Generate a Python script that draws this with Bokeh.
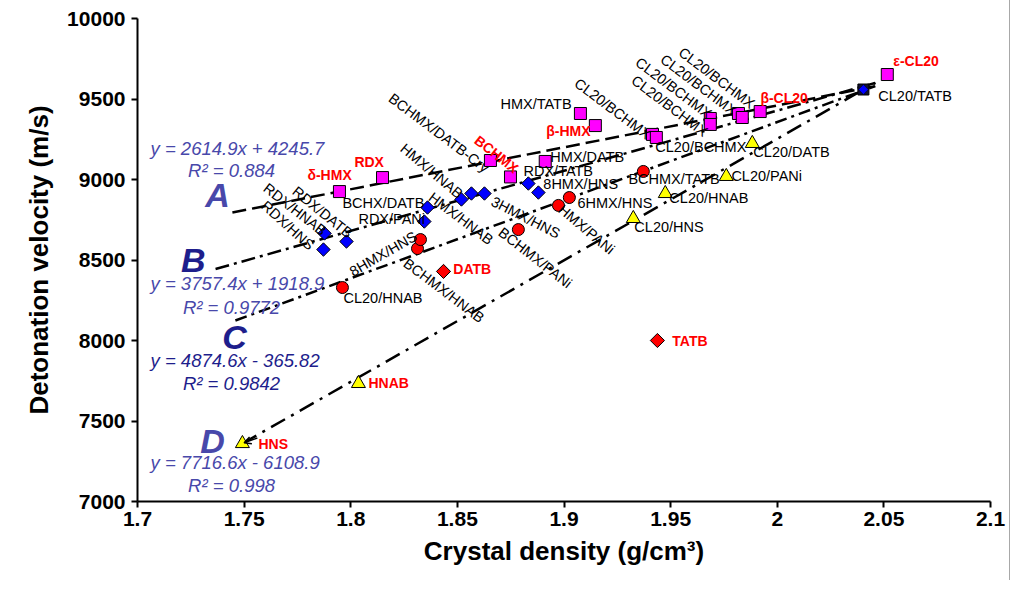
from bokeh.plotting import figure
from bokeh.models import FixedTicker, Range1d, Arrow, OpenHead
from bokeh.core.properties import value
from bokeh.embed import file_html
from bokeh.resources import INLINE

# ---------------- data ----------------
# line A series (magenta squares)
sq_x = [1.7947, 1.8149, 1.8655, 1.8749, 1.8912, 1.9077, 1.9147, 1.9415, 1.9433,
        1.9686, 1.9686, 1.9818, 1.9836, 1.9920, 2.0516]
sq_y = [8925, 9012, 9118, 9016, 9112, 9410, 9335, 9280, 9261,
        9379, 9342, 9410, 9385, 9422, 9652]
# line B series (blue diamonds)
dm_x = [1.7872, 1.7877, 1.7980, 1.8345, 1.8360, 1.8519, 1.8566, 1.8627, 1.8833, 1.8880]
dm_y = [8565, 8665, 8615, 8739, 8826, 8876, 8913, 8913, 8975, 8919]
# line C series (red circles)
ci_x = [1.7961, 1.8313, 1.8327, 1.8786, 1.8974, 1.9025, 1.9372]
ci_y = [8329, 8571, 8627, 8689, 8839, 8888, 9050]
# line D series (yellow triangles)
tr_x = [1.7492, 1.8036, 1.9325, 1.9475, 1.9761, 1.9883]
tr_y = [7360, 7733, 8758, 8913, 9019, 9224]
# pure explosives DATB / TATB (red diamonds)
rd_x = [1.8435, 1.9438]
rd_y = [8429, 8000]
# common end point CL20/TATB
end_x = [2.0404]
end_y = [9559]

# trend lines (start / end)
trend_names = ["A", "B", "C", "D"]
trend_x0 = [1.7445, 1.7366, 1.7459, 1.7492]
trend_y0 = [8795, 8444, 8124, 7360]
trend_x1 = [2.046, 2.046, 2.046, 2.046]
trend_y1 = [9580, 9600, 9580, 9600]

equations = ["y = 2614.9x + 4245.7", "y = 3757.4x + 1918.9",
             "y = 4874.6x - 365.82", "y = 7716.6x - 6108.9"]
r2_texts = ["R² = 0.884", "R² = 0.9772", "R² = 0.9842", "R² = 0.998"]

# black point labels: text, x, y, angle(deg)
black_labels = ["HMX/TATB", "HMX/DATB", "RDX/TATB", "8HMX/HNS", "6HMX/HNS", "BCHMX/TATB",
                "CL20/BCHMX", "CL20/DATB", "CL20/PANi", "CL20/HNAB", "CL20/HNS", "CL20/TATB",
                "BCHX/DATB", "RDX/PANi", "CL20/HNAB",
                "BCHMX/DATB-Cry", "HMX/HNAB", "HMX/HNAB", "RDX/HNAB", "RDX/DATB", "RDX/HNS",
                "8HMX/HNS", "BCHMX/HNAB", "3HMX/HNS", "BCHMX/PANi", "HMX/PANi",
                "CL20/BCHMX", "CL20/BCHMX", "CL20/BCHMX", "CL20/BCHMX", "CL20/BCHMX"]
bl_x = [1.8702, 1.8936, 1.8810, 1.8903, 1.9063, 1.9302, 1.9428, 1.9888, 1.9785, 1.9494, 1.9330,
        2.0474, 1.7961, 1.8036, 1.7966,
        1.8186, 1.8242, 1.8374, 1.7600, 1.7736, 1.7591, 1.8000, 1.8256, 1.8664, 1.8702, 1.8983,
        1.9058, 1.9325, 1.9344, 1.9461, 1.9546]
bl_y = [9466, 9137, 9050, 8975, 8857, 9006, 9199, 9168, 9019, 8882, 8702, 9516, 8857, 8752, 8261,
        9516, 9205, 8901, 8957, 8938, 8851, 8422, 8491, 8870, 8683, 8826,
        9609, 9627, 9739, 9758, 9801]
bl_a = [0] * 15 + [-37, -40, -37, -38, -39, -42, 30, -37, -27, -38, -40,
                   -37, -37, -37, -37, -37]

red_labels = ["δ-HMX", "RDX", "BCHMX", "β-HMX", "β-CL20", "ε-CL20", "DATB", "TATB", "HNAB", "HNS"]
rl_x = [1.7797, 1.8017, 1.8589, 1.8917, 1.9921, 2.0544, 1.8481, 1.9508, 1.8083, 1.7567]
rl_y = [9025, 9106, 9255, 9304, 9509, 9739, 8441, 8000, 7739, 7360]
rl_a = [0, 0, -38, 0, 0, 0, 0, 0, 0, 0]

# ---------------- figure ----------------
FONT = value("Liberation Sans")
LIGHT = "#4848aa"
DARK = "#1e1e8c"

p = figure(width=1010, height=580, output_backend="svg", toolbar_location=None,
           x_range=Range1d(1.7, 2.1), y_range=Range1d(7000, 10000),
           min_border_left=137, min_border_right=20, min_border_top=18, min_border_bottom=79)
p.styles = {"border-right": "1px solid #a8a8a8"}
p.outline_line_color = None
p.xgrid.visible = False
p.ygrid.visible = False
p.background_fill_color = "white"

p.xaxis.ticker = FixedTicker(ticks=[1.7, 1.75, 1.8, 1.85, 1.9, 1.95, 2.0, 2.05, 2.1])
p.xaxis.major_label_overrides = {1.7: "1.7", 1.75: "1.75", 1.8: "1.8", 1.85: "1.85", 1.9: "1.9",
                                 1.95: "1.95", 2.0: "2", 2.05: "2.05", 2.1: "2.1"}
p.yaxis.ticker = FixedTicker(ticks=[7000, 7500, 8000, 8500, 9000, 9500, 10000])
p.xaxis.axis_label = "Crystal density (g/cm³)"
p.yaxis.axis_label = "Detonation velocity (m/s)"
for ax in (p.xaxis, p.yaxis):
    ax.axis_line_width = 2
    ax.axis_line_color = "black"
    ax.major_tick_line_width = 2
    ax.major_tick_out = 6
    ax.major_tick_in = 0
    ax.minor_tick_line_color = None
    ax.major_label_text_font = "Liberation Sans"
    ax.major_label_text_font_style = "bold"
    ax.major_label_text_font_size = "21px"
    ax.major_label_text_color = "black"
    ax.axis_label_text_font = "Liberation Sans"
    ax.axis_label_text_font_style = "bold"
    ax.axis_label_text_font_size = "26px"
    ax.axis_label_text_color = "black"
p.yaxis.major_label_standoff = 6
p.xaxis.major_label_standoff = 4
p.yaxis.axis_label_standoff = 10
p.xaxis.axis_label_standoff = 7

# trend lines
dashes = ["14 6", "14 5 3 5", "12 5 3 5", "16 7 3 7"]
for i in range(4):
    p.line([trend_x0[i], trend_x1[i]], [trend_y0[i], trend_y1[i]], line_color="black",
           line_width=2.5, line_dash=dashes[i])

# arrow to HNS
p.add_layout(Arrow(end=OpenHead(size=7, line_width=1.5), x_start=1.7562, y_start=7394,
                   x_end=tr_x[0] + 0.0008, y_end=tr_y[0] + 5, line_width=1.5))

# markers
p.scatter(sq_x, sq_y, marker="square", size=12, fill_color="#ff00ff", line_color="black", line_width=1)
p.scatter(dm_x, dm_y, marker="square", angle=0.785398, size=9.5, fill_color="#0000ff",
          line_color="black", line_width=1)
p.scatter(ci_x, ci_y, marker="circle", size=12, fill_color="#ff0000", line_color="black", line_width=1)
p.scatter(tr_x, tr_y, marker="triangle", size=14, fill_color="#ffff00", line_color="black", line_width=1)
p.scatter(rd_x, rd_y, marker="square", angle=0.785398, size=10, fill_color="#ff0000",
          line_color="black", line_width=1)
p.scatter(end_x, end_y, marker="square", size=11, fill_color="#101030", line_color="black", line_width=1)
p.scatter(end_x, end_y, marker="square", angle=0.785398, size=7, fill_color="#0000ff",
          line_color="black", line_width=0.5)

# point labels
p.text(x=bl_x, y=bl_y, text=black_labels, angle=bl_a, angle_units="deg",
       text_font=FONT, text_font_size="14.5px", text_color="black",
       text_align="left", text_baseline="middle")
p.text(x=rl_x, y=rl_y, text=red_labels, angle=rl_a, angle_units="deg",
       text_font=FONT, text_font_size="14px", text_font_style="bold", text_color="#ff0000",
       text_align="left", text_baseline="middle")

# equations and letters
eq_y = [9193, 8354, 7876, 7242]
r2_y = [9056, 8205, 7733, 7099]
eq_col = [LIGHT, LIGHT, DARK, LIGHT]
let_x = [1.7375, 1.7262, 1.7455, 1.7352]
let_y = [8901, 8503, 8019, 7373]
let_col = [LIGHT, DARK, DARK, LIGHT]
for i in range(4):
    p.text(x=[1.7061], y=[eq_y[i]], text=[equations[i]], text_font=FONT, text_font_size="18.5px",
           text_font_style="italic", text_color=eq_col[i], text_align="left", text_baseline="middle")
    p.text(x=[1.7441], y=[r2_y[i]], text=[r2_texts[i]], text_font=FONT, text_font_size="18.5px",
           text_font_style="italic", text_color=eq_col[i], text_align="center", text_baseline="middle")
    p.text(x=[let_x[i]], y=[let_y[i]], text=[trend_names[i]], text_font=FONT, text_font_size="34px",
           text_font_style="bold italic", text_color=let_col[i], text_align="center",
           text_baseline="middle")

open("out.html", "w").write(file_html(p, INLINE))
